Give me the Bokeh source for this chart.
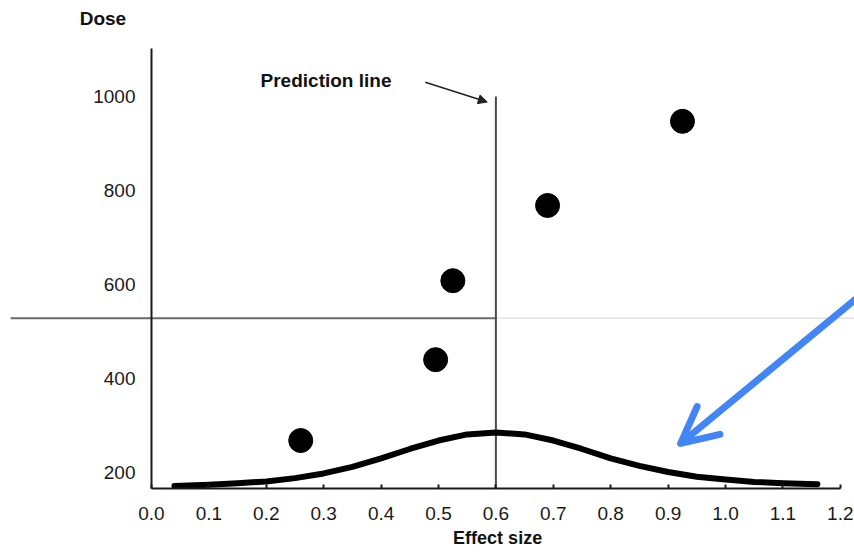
from bokeh.plotting import figure
from bokeh.models import Range1d, Arrow, OpenHead, NormalHead, Label, FixedTicker, NumeralTickFormatter
from bokeh.embed import file_html
from bokeh.resources import INLINE

# ---- data ----
effect = [0.26, 0.495, 0.525, 0.69, 0.925]
dose = [268, 440, 608, 768, 947]

curve_x = [0.04, 0.1, 0.15, 0.2, 0.25, 0.3, 0.35, 0.4, 0.45, 0.5, 0.55, 0.6,
           0.65, 0.7, 0.75, 0.8, 0.85, 0.9, 0.95, 1.0, 1.05, 1.1, 1.16]
curve_y = [171, 174, 177, 181, 188, 198, 212, 230, 250, 268, 281, 285,
           281, 268, 250, 230, 214, 201, 191, 185, 180, 177, 175]

prediction_x = 0.6
prediction_top = 1000
threshold_dose = 528

x_ticks = [0.0, 0.1, 0.2, 0.3, 0.4, 0.5, 0.6, 0.7, 0.8, 0.9, 1.0, 1.1, 1.2]
y_ticks = [200, 400, 600, 800, 1000]

# axis extents and annotation anchors (data units)
x_axis_at = 166
x_axis_bounds = (0.0, 1.2)
y_axis_bounds = (166, 1102)
hline_left = -0.246
hline_right = 1.23
pred_label_pos = (0.19, 1034)
pred_arrow = ((0.477, 1030), (0.585, 988))
blue_arrow = ((1.235, 577), (0.922, 262))
dose_label_pos = (-0.125, 1166)
xlabel_pos = (0.603, 60)

FONT = "Liberation Sans"

p = figure(width=854, height=552, output_backend="svg", toolbar_location=None,
           x_range=Range1d(-0.2456, 1.2247), y_range=Range1d(29.8, 1204),
           min_border_left=10, min_border_right=0, min_border_top=0, min_border_bottom=0)
p.outline_line_color = None
p.grid.visible = False
p.background_fill_color = "white"
p.border_fill_color = "white"

# axes
p.xaxis.ticker = FixedTicker(ticks=x_ticks)
p.xaxis.formatter = NumeralTickFormatter(format="0.0")
p.xaxis.fixed_location = x_axis_at
p.xaxis.bounds = x_axis_bounds
p.xaxis.minor_tick_line_color = None
p.xaxis.major_tick_in = 4
p.xaxis.major_tick_out = 0
p.xaxis.major_label_standoff = 19

p.yaxis.ticker = FixedTicker(ticks=y_ticks)
p.yaxis.fixed_location = 0.0
p.yaxis.bounds = y_axis_bounds
p.yaxis.minor_tick_line_color = None
p.yaxis.major_tick_in = 0
p.yaxis.major_tick_out = 0
p.yaxis.major_label_standoff = 16

for ax in (p.xaxis, p.yaxis):
    ax.axis_line_color = "#1a1a1a"
    ax.axis_line_width = 2
    ax.major_tick_line_color = "#1a1a1a"
    ax.major_tick_line_width = 2
    ax.major_label_text_font = FONT
    ax.major_label_text_font_size = "19px"
    ax.major_label_text_color = "#1a1a1a"

# horizontal threshold line (extends left past the y axis, faint to the right)
p.segment(x0=[hline_left], y0=[threshold_dose], x1=[prediction_x], y1=[threshold_dose],
          line_color="#6a6a6a", line_width=2)
p.segment(x0=[prediction_x], y0=[threshold_dose], x1=[hline_right], y1=[threshold_dose],
          line_color="#e2e2e2", line_width=1.5)

# prediction line
p.segment(x0=[prediction_x], y0=[x_axis_at], x1=[prediction_x], y1=[prediction_top],
          line_color="#4a4a4a", line_width=2)

# distribution curve
p.line(curve_x, curve_y, line_color="black", line_width=6, line_cap="round", line_join="round")

# points
p.scatter(effect, dose, size=24, fill_color="black", line_color="black")

# texts
p.add_layout(Label(x=pred_label_pos[0], y=pred_label_pos[1], text="Prediction line",
                   text_font=FONT, text_font_style="bold", text_font_size="19px",
                   text_color="#111111", text_baseline="middle", text_align="left"))
p.add_layout(Arrow(x_start=pred_arrow[0][0], y_start=pred_arrow[0][1],
                   x_end=pred_arrow[1][0], y_end=pred_arrow[1][1],
                   line_color="#222222", line_width=1.5,
                   end=NormalHead(size=9, fill_color="#222222", line_color="#222222")))
p.add_layout(Label(x=dose_label_pos[0], y=dose_label_pos[1], text="Dose",
                   text_font=FONT, text_font_style="bold", text_font_size="19px",
                   text_color="#111111", text_baseline="middle", text_align="left"))
p.add_layout(Label(x=xlabel_pos[0], y=xlabel_pos[1], text="Effect size",
                   text_font=FONT, text_font_style="bold", text_font_size="18px",
                   text_color="#111111", text_baseline="middle", text_align="center"))

# blue annotation arrow
p.add_layout(Arrow(x_start=blue_arrow[0][0], y_start=blue_arrow[0][1],
                   x_end=blue_arrow[1][0], y_end=blue_arrow[1][1],
                   line_color="#4285f4", line_width=7, line_cap="round",
                   end=OpenHead(size=36, line_color="#4285f4", line_width=7,
                                line_cap="round", line_join="round")))

open("out.html", "w").write(file_html(p, INLINE))
